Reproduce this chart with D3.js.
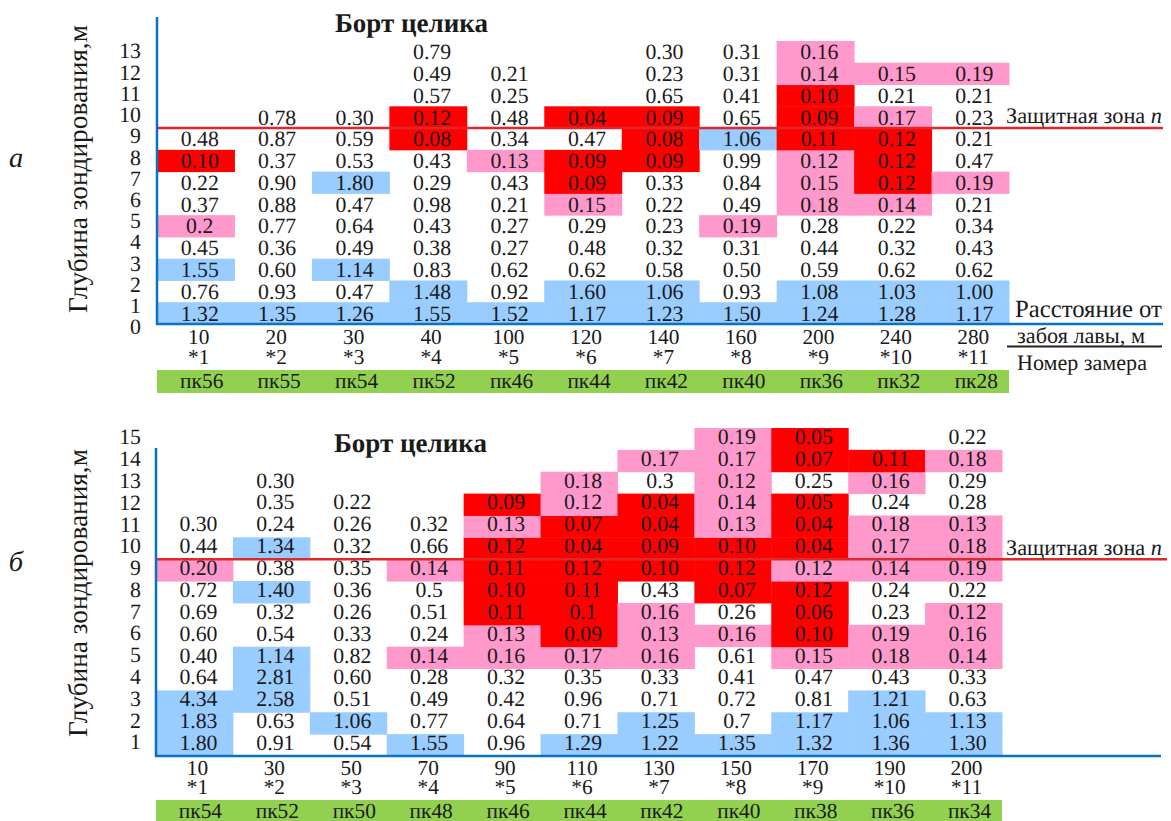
<!doctype html>
<html lang="ru">
<head>
<meta charset="utf-8">
<title>Глубина зондирования</title>
<style>
    body { margin: 0; background: #fff; }
    #chart text {
        font-family: "Times New Roman", Tinos, "Liberation Serif", serif;
        text-rendering: geometricPrecision;
    }
</style>
</head>
<body>
<svg id="chart" width="1171" height="821" text-rendering="geometricPrecision"></svg>
<script src="https://d3js.org/d3.v7.min.js"></script>
<script>
// ---- panel a ----
var ticksA = [0, 1, 2, 3, 4, 5, 6, 7, 8, 9, 10, 11, 12, 13];
var distA = ["10", "20", "30", "40", "100", "120", "140", "160", "200", "240", "280"];
var numA = ["*1", "*2", "*3", "*4", "*5", "*6", "*7", "*8", "*9", "*10", "*11"];
var pkA = ["пк56", "пк55", "пк54", "пк52", "пк46", "пк44", "пк42", "пк40", "пк36", "пк32", "пк28"];
// values per column, from depth 1 upwards
var valuesA = [
    ["1.32", "0.76", "1.55", "0.45", "0.2", "0.37", "0.22", "0.10", "0.48"],
    ["1.35", "0.93", "0.60", "0.36", "0.77", "0.88", "0.90", "0.37", "0.87", "0.78"],
    ["1.26", "0.47", "1.14", "0.49", "0.64", "0.47", "1.80", "0.53", "0.59", "0.30"],
    ["1.55", "1.48", "0.83", "0.38", "0.43", "0.98", "0.29", "0.43", "0.08", "0.12", "0.57", "0.49", "0.79"],
    ["1.52", "0.92", "0.62", "0.27", "0.27", "0.21", "0.43", "0.13", "0.34", "0.48", "0.25", "0.21"],
    ["1.17", "1.60", "0.62", "0.48", "0.29", "0.15", "0.09", "0.09", "0.47", "0.04"],
    ["1.23", "1.06", "0.58", "0.32", "0.23", "0.22", "0.33", "0.09", "0.08", "0.09", "0.65", "0.23", "0.30"],
    ["1.50", "0.93", "0.50", "0.31", "0.19", "0.49", "0.84", "0.99", "1.06", "0.65", "0.41", "0.31", "0.31"],
    ["1.24", "1.08", "0.59", "0.44", "0.28", "0.18", "0.15", "0.12", "0.11", "0.09", "0.10", "0.14", "0.16"],
    ["1.28", "1.03", "0.62", "0.32", "0.22", "0.14", "0.12", "0.12", "0.12", "0.17", "0.21", "0.15"],
    ["1.17", "1.00", "0.62", "0.43", "0.34", "0.21", "0.19", "0.47", "0.21", "0.23", "0.21", "0.19"]
];
// cell fill: b = blue, p = pink, r = red, . = none
var classesA = [
    "b.b.p..r.",
    "b.........",
    "b.b...b...",
    "bb......rr...",
    "b......p....",
    "bb...prr.r",
    "bb.....rrr...",
    "b...p...b....",
    "bb...ppprrrpp",
    "bb...prrrp.p",
    "bb....p....p"
];

// ---- panel б ----
var ticksB = [1, 2, 3, 4, 5, 6, 7, 8, 9, 10, 11, 12, 13, 14, 15];
var distB = ["10", "30", "50", "70", "90", "110", "130", "150", "170", "190", "200"];
var numB = ["*1", "*2", "*3", "*4", "*5", "*6", "*7", "*8", "*9", "*10", "*11"];
var pkB = ["пк54", "пк52", "пк50", "пк48", "пк46", "пк44", "пк42", "пк40", "пк38", "пк36", "пк34"];
var valuesB = [
    ["1.80", "1.83", "4.34", "0.64", "0.40", "0.60", "0.69", "0.72", "0.20", "0.44", "0.30"],
    ["0.91", "0.63", "2.58", "2.81", "1.14", "0.54", "0.32", "1.40", "0.38", "1.34", "0.24", "0.35", "0.30"],
    ["0.54", "1.06", "0.51", "0.60", "0.82", "0.33", "0.26", "0.36", "0.35", "0.32", "0.26", "0.22"],
    ["1.55", "0.77", "0.49", "0.28", "0.14", "0.24", "0.51", "0.5", "0.14", "0.66", "0.32"],
    ["0.96", "0.64", "0.42", "0.32", "0.16", "0.13", "0.11", "0.10", "0.11", "0.12", "0.13", "0.09"],
    ["1.29", "0.71", "0.96", "0.35", "0.17", "0.09", "0.1", "0.11", "0.12", "0.04", "0.07", "0.12", "0.18"],
    ["1.22", "1.25", "0.71", "0.33", "0.16", "0.13", "0.16", "0.43", "0.10", "0.09", "0.04", "0.04", "0.3", "0.17"],
    ["1.35", "0.7", "0.72", "0.41", "0.61", "0.16", "0.26", "0.07", "0.12", "0.10", "0.13", "0.14", "0.12", "0.17", "0.19"],
    ["1.32", "1.17", "0.81", "0.47", "0.15", "0.10", "0.06", "0.12", "0.12", "0.04", "0.04", "0.05", "0.25", "0.07", "0.05"],
    ["1.36", "1.06", "1.21", "0.43", "0.18", "0.19", "0.23", "0.24", "0.14", "0.17", "0.18", "0.24", "0.16", "0.11"],
    ["1.30", "1.13", "0.63", "0.33", "0.14", "0.16", "0.12", "0.22", "0.19", "0.18", "0.13", "0.28", "0.29", "0.18", "0.22"]
];
var classesB = [
    "bbb.....p..",
    "..bbb..b.b...",
    ".b..........",
    "b...p...p..",
    "....pprrrrpr",
    "b...prrrrrrpp",
    "bb..ppp.rrrr.p",
    "b....p.rrrppppp",
    "bb..prrrprrr.rr",
    "bbb.pp..ppp.pr",
    "bb..ppp.ppp..p."
];

var fills = { r: "#ff0000", p: "#ff99cc", b: "#99ccff" };
var axisBlue = "#0a72c2";
var lineRed = "#e0282a";
var ink = "#1a1a1a";

var svg = d3.select("#chart");

// shrink / grow a text so that it spans the given width
function fit(sel, w) {
    var fs = parseFloat(sel.style("font-size"));
    var len = sel.node().getComputedTextLength();
    if (len > 0) sel.style("font-size", (fs * w / len).toFixed(2) + "px");
    return sel;
}

function drawPanel(p) {
    var g = svg.append("g").attr("fill", ink);
    var x = d3.scaleBand().domain(d3.range(p.values.length)).range([p.left, p.right]);
    var y = d3.scaleBand().domain(d3.range(1, p.rows + 1)).range([p.bottom, p.top]);
    var yt = d3.scaleLinear().domain(p.tickDomain).range(p.tickRange);

    var cells = [];
    p.values.forEach(function(col, i) {
        col.forEach(function(v, j) {
            cells.push({ col: i, depth: j + 1, v: v, c: p.classes[i].charAt(j) });
        });
    });

    // coloured cells
    g.selectAll("rect.cell")
        .data(cells.filter(function(d) { return d.c !== "."; }))
        .enter()
        .append("rect")
        .attr("x", function(d) { return x(d.col); })
        .attr("y", function(d) { return y(d.depth); })
        .attr("width", x.bandwidth() + 0.5)
        .attr("height", y.bandwidth() + 0.5)
        .attr("fill", function(d) { return fills[d.c]; });

    // protective zone line (between depth 9 and 10)
    g.append("line")
        .attr("x1", p.left).attr("x2", p.lineEnd)
        .attr("y1", y(9)).attr("y2", y(9))
        .attr("stroke", lineRed).attr("stroke-width", 2.5);

    // cell values
    g.selectAll("text.val")
        .data(cells)
        .enter()
        .append("text")
        .attr("x", function(d) { return x(d.col) + x.bandwidth() / 2 + 4; })
        .attr("y", function(d) { return y(d.depth) + y.bandwidth() / 2 + p.valOff; })
        .attr("dy", "0.34em")
        .attr("text-anchor", "middle")
        .style("font-size", "21.8px")
        .text(function(d) { return d.v; });

    // axes
    g.append("line")
        .attr("x1", p.left).attr("x2", p.left)
        .attr("y1", p.axisTop).attr("y2", p.bottom + 1)
        .attr("stroke", axisBlue).attr("stroke-width", 2.5);
    g.append("line")
        .attr("x1", p.left - 1).attr("x2", p.axisEnd)
        .attr("y1", p.bottom).attr("y2", p.bottom)
        .attr("stroke", axisBlue).attr("stroke-width", 2.5);

    // depth tick labels
    g.selectAll("text.tick")
        .data(p.ticks)
        .enter()
        .append("text")
        .attr("x", 141)
        .attr("y", function(d) { return yt(d); })
        .attr("dy", "0.34em")
        .attr("text-anchor", "end")
        .style("font-size", "21.8px")
        .text(function(d) { return d; });

    // distance, measurement number
    g.selectAll("text.dist")
        .data(p.dist)
        .enter()
        .append("text")
        .attr("x", function(d, i) { return x(i) + x.bandwidth() / 2 + 3; })
        .attr("y", p.distY)
        .attr("dy", "0.34em")
        .attr("text-anchor", "middle")
        .style("font-size", "21.3px")
        .text(function(d) { return d; });
    g.selectAll("text.num")
        .data(p.num)
        .enter()
        .append("text")
        .attr("x", function(d, i) { return x(i) + x.bandwidth() / 2 + 3; })
        .attr("y", p.numY)
        .attr("dy", "0.34em")
        .attr("text-anchor", "middle")
        .style("font-size", "21.3px")
        .text(function(d) { return d; });

    // picket band
    g.append("rect")
        .attr("x", p.left).attr("y", p.pkTop)
        .attr("width", p.right - p.left).attr("height", p.pkH)
        .attr("fill", "#92d050");
    g.selectAll("text.pk")
        .data(p.pk)
        .enter()
        .append("text")
        .attr("x", function(d, i) { return x(i) + x.bandwidth() / 2 + 6; })
        .attr("y", p.pkTop + p.pkH / 2)
        .attr("dy", "0.32em")
        .attr("text-anchor", "middle")
        .style("font-size", "21.4px")
        .text(function(d) { return d; });

    // titles
    var title = g.append("text")
        .attr("x", p.left + 178).attr("y", p.titleY)
        .attr("dy", "0.34em")
        .style("font-size", "22.5px").style("font-weight", "bold")
        .text("Борт целика");
    fit(title, 153);

    var zone = g.append("text")
        .attr("x", 1006).attr("y", p.zoneY)
        .attr("dy", "0.34em")
        .style("font-size", "21.5px")
        .text("Защитная зона ");
    zone.append("tspan").style("font-style", "italic").text("n");
    fit(zone, 156);

    var yTitle = g.append("text")
        .attr("transform", "translate(78," + p.ytitleY + ") rotate(-90)")
        .attr("text-anchor", "middle")
        .attr("dy", "0.34em")
        .style("font-size", "26.5px")
        .text("Глубина зондирования,м");
    fit(yTitle, 288);

    g.append("text")
        .attr("x", 16).attr("y", p.letterY)
        .attr("dy", "0.3em")
        .attr("text-anchor", "middle")
        .style("font-size", "28.5px").style("font-style", "italic")
        .text(p.letter);

    return g;
}

var gA = drawPanel({
    values: valuesA, classes: classesA, rows: 13,
    left: 157, right: 1009, bottom: 324, top: 41,
    axisTop: 17, axisEnd: 1163, lineEnd: 1163,
    ticks: ticksA, tickDomain: [0, 13], tickRange: [327, 51],
    valOff: 0,
    dist: distA, num: numA, pk: pkA,
    distY: 337, numY: 357, pkTop: 370, pkH: 23,
    titleY: 23, zoneY: 115, ytitleY: 169, letterY: 158, letter: "а"
});

var gB = drawPanel({
    values: valuesB, classes: classesB, rows: 15,
    left: 156, right: 1002, bottom: 756, top: 428,
    axisTop: 448, axisEnd: 1161, lineEnd: 1167,
    ticks: ticksB, tickDomain: [1, 15], tickRange: [742, 437],
    valOff: -2.5,
    dist: distB, num: numB, pk: pkB,
    distY: 768, numY: 787, pkTop: 800, pkH: 22,
    titleY: 443, zoneY: 547, ytitleY: 593, letterY: 562, letter: "б"
});

// x-axis caption of panel a
fit(gA.append("text").attr("x", 1015).attr("y", 309).attr("dy", "0.34em")
    .style("font-size", "23.5px").text("Расстояние от"), 147);
fit(gA.append("text").attr("x", 1017).attr("y", 335).attr("dy", "0.34em")
    .style("font-size", "20.5px").text("забоя лавы, м"), 128);
gA.append("line").attr("x1", 1007).attr("x2", 1162).attr("y1", 346.5).attr("y2", 346.5)
    .attr("stroke", "#222").attr("stroke-width", 2.2);
fit(gA.append("text").attr("x", 1017).attr("y", 362).attr("dy", "0.34em")
    .style("font-size", "21.5px").text("Номер замера"), 130);
</script>
</body>
</html>
